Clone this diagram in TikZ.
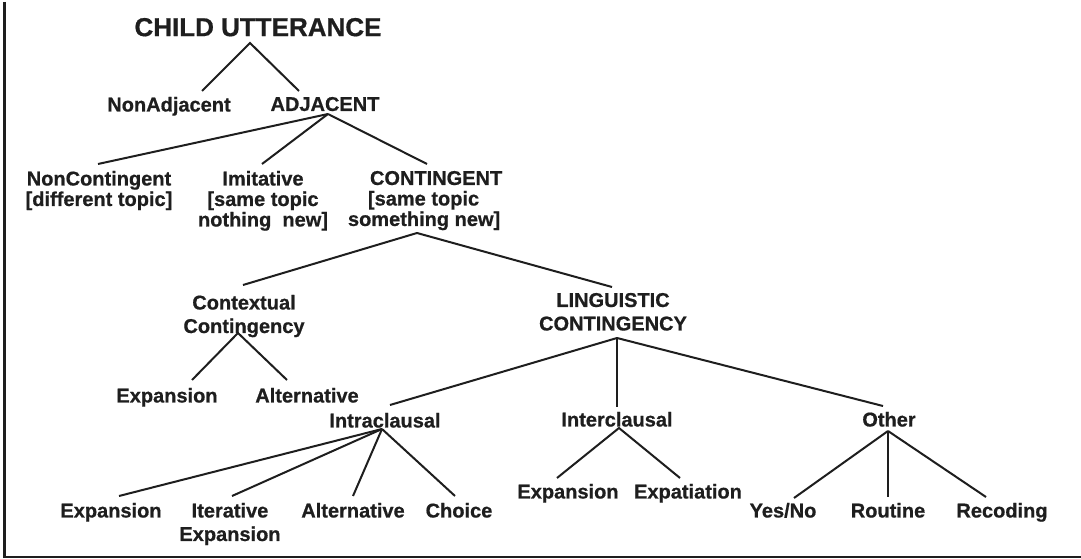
\documentclass[tikz,border=0pt]{standalone}
\usepackage{fontspec}
\setmainfont{Liberation Sans}[BoldFeatures={FakeBold=0.7}]
\definecolor{ink}{HTML}{1E1E1E}
\begin{document}
\begin{tikzpicture}[x=1bp,y=-1bp,
  lbl/.style={anchor=north,inner sep=0pt,outer sep=0pt,text=ink,align=center,
    font=\fontsize{20bp}{20.5bp}\selectfont\bfseries},
  wide/.style={font=\fontsize{20bp}{23.5bp}\selectfont\bfseries},
  conn/.style={draw=ink,line width=2bp},
  frame/.style={draw=ink,line width=2.5bp}]
\useasboundingbox (0,0) rectangle (1081,559);
\draw[frame] (4.7,2) -- (4.7,557) -- (1081,557);

% nodes
\node[lbl,font=\fontsize{26bp}{28bp}\selectfont\bfseries] (cu) at (258,18) {CHILD UTTERANCE};
\node[lbl] (nadj) at (169,97) {NonAdjacent};
\node[lbl] (adj) at (325,97) {ADJACENT};
\node[lbl] (ncon) at (99,171) {NonContingent\\{[}different topic]};
\node[lbl] (imit) at (263,171) {Imitative\\{[}same topic\\nothing\ \ new]};
\node[lbl,anchor=north west,align=left] (cont) at (348,171) {\hspace*{22bp}CONTINGENT\\\hspace*{20bp}{[}same topic\\something new]};
\node[lbl,wide] (ctx) at (244,295) {Contextual\\Contingency};
\node[lbl,wide] (ling) at (613,293) {LINGUISTIC\\CONTINGENCY};
\node[lbl] (exp1) at (167,388) {Expansion};
\node[lbl] (alt1) at (307,388) {Alternative};
\node[lbl] (intra) at (385,413) {Intraclausal};
\node[lbl] (inter) at (617,412) {Interclausal};
\node[lbl] (other) at (889,412) {Other};
\node[lbl] (exp2) at (111,503) {Expansion};
\node[lbl,wide] (iter) at (230,503) {Iterative\\Expansion};
\node[lbl] (alt2) at (353,503) {Alternative};
\node[lbl] (choice) at (459,503) {Choice};
\node[lbl] (exp3) at (568,484) {Expansion};
\node[lbl] (expat) at (688,484) {Expatiation};
\node[lbl] (yesno) at (783,503) {Yes/No};
\node[lbl] (routine) at (888,503) {Routine};
\node[lbl] (recoding) at (1002,503) {Recoding};

% connectors
\draw[conn] ([shift={(33,-6)}]nadj.north) -- ([shift={(-8,25)}]cu.north) -- ([shift={(-26,-6)}]adj.north);
\draw[conn] ([shift={(3,17)}]adj.north) -- ([shift={(-1,-7)}]ncon.north);
\draw[conn] ([shift={(3,17)}]adj.north) -- ([shift={(-1,-7)}]imit.north);
\draw[conn] ([shift={(3,17)}]adj.north) -- ([shift={(79,-7)}]cont.north west);
\draw[conn] ([shift={(69,62)}]cont.north west) -- ([shift={(-1,-10)}]ctx.north);
\draw[conn] ([shift={(69,62)}]cont.north west) -- ([shift={(-1,-6)}]ling.north);
\draw[conn] ([shift={(25,-8)}]exp1.north) -- ([shift={(-6,38)}]ctx.north) -- ([shift={(-20,-8)}]alt1.north);
\draw[conn] ([shift={(4,45)}]ling.north) -- ([shift={(5,-8)}]intra.north);
\draw[conn] ([shift={(4,45)}]ling.north) -- ([shift={(0,-5)}]inter.north);
\draw[conn] ([shift={(4,45)}]ling.north) -- ([shift={(-6,-6)}]other.north);
\draw[conn] ([shift={(-3,16)}]intra.north) -- ([shift={(8,-7)}]exp2.north);
\draw[conn] ([shift={(-3,16)}]intra.north) -- ([shift={(2,-7)}]iter.north);
\draw[conn] ([shift={(-3,16)}]intra.north) -- ([shift={(0,-7)}]alt2.north);
\draw[conn] ([shift={(-3,16)}]intra.north) -- ([shift={(-4,-7)}]choice.north);
\draw[conn] ([shift={(-11,-6)}]exp3.north) -- ([shift={(2,16)}]inter.north) -- ([shift={(-8,-6)}]expat.north);
\draw[conn] ([shift={(-1,19)}]other.north) -- ([shift={(11,-5)}]yesno.north);
\draw[conn] ([shift={(-1,19)}]other.north) -- ([shift={(0,-6)}]routine.north);
\draw[conn] ([shift={(-1,19)}]other.north) -- ([shift={(-16,-6)}]recoding.north);
\end{tikzpicture}
\end{document}
